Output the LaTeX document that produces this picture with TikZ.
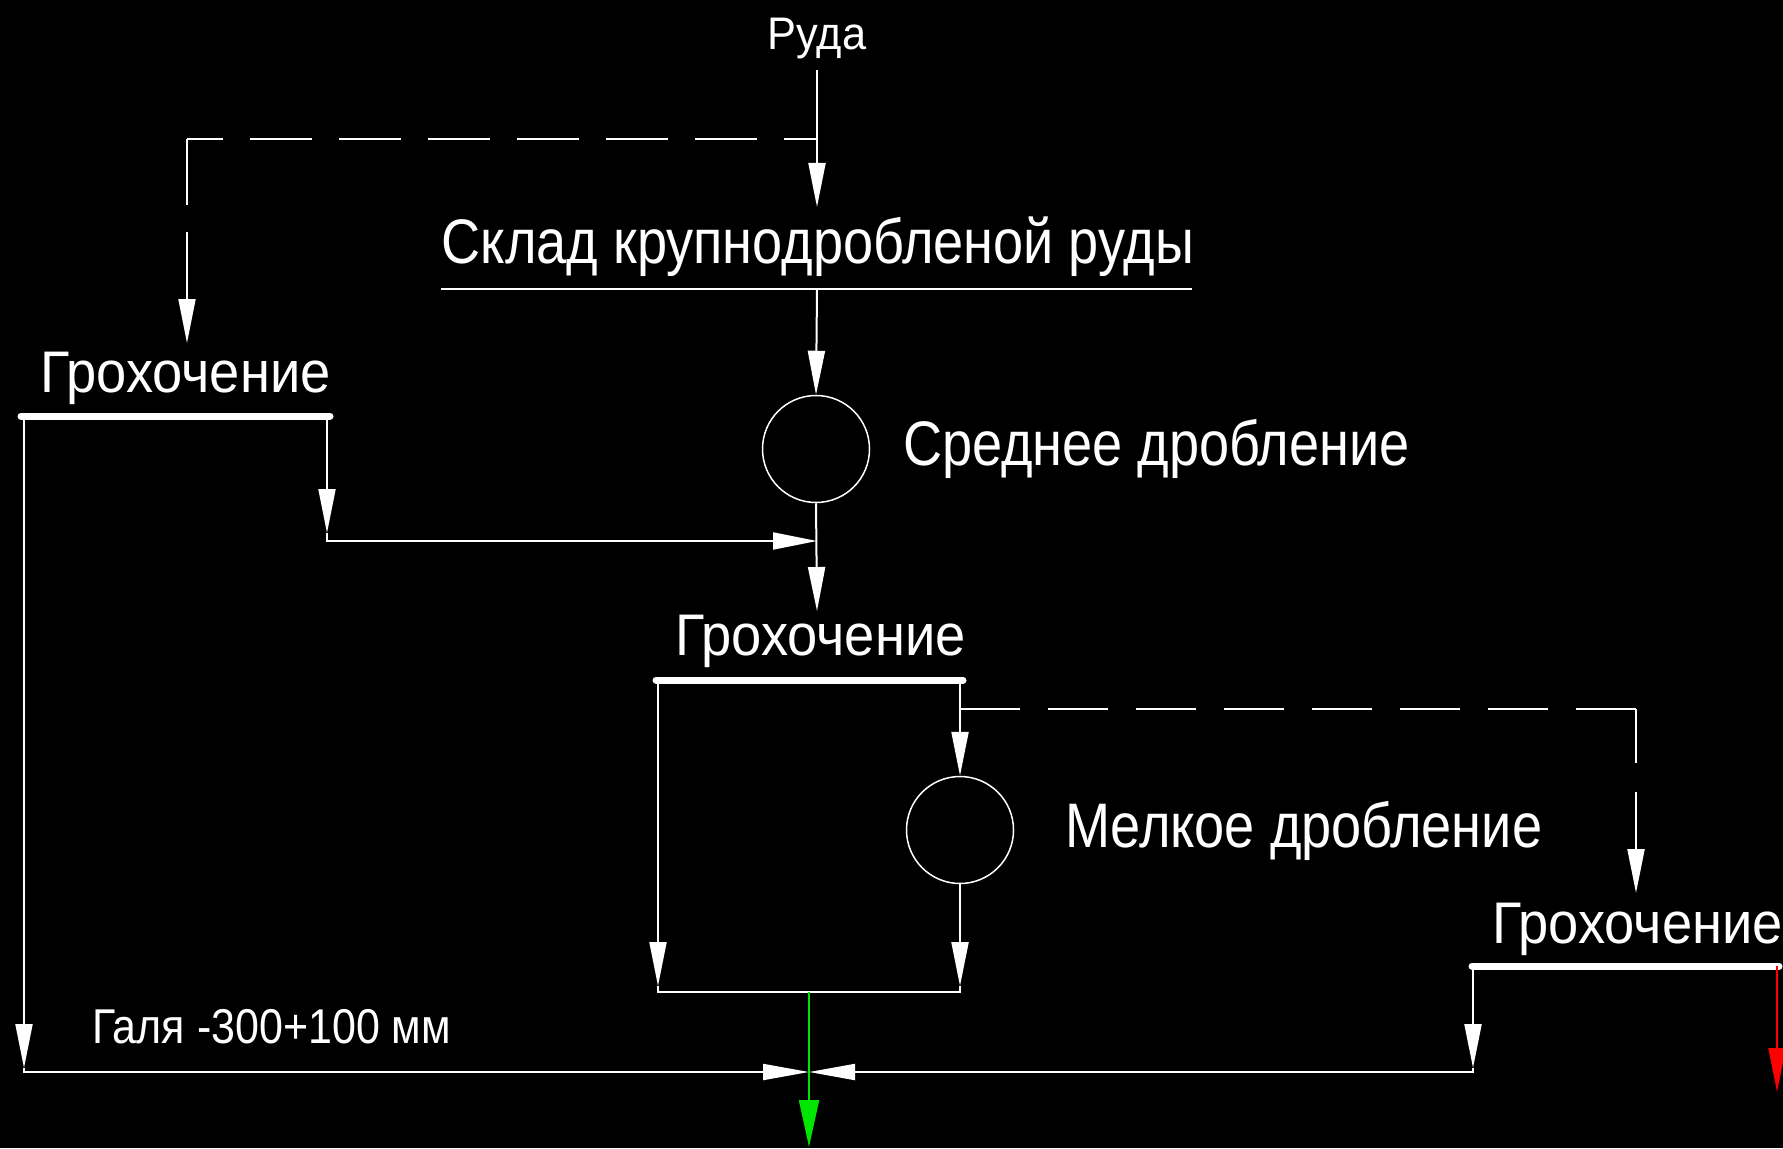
\documentclass[tikz,border=0pt]{standalone}
\usepackage{fontspec}
\setmainfont{Liberation Sans}[FakeStretch=0.86]
\newfontfamily\screenfamily{Liberation Sans}[FakeStretch=0.925]
\newfontfamily\notefamily{Liberation Sans}[FakeStretch=0.88]
\newfontfamily\feedfamily{Liberation Sans}[FakeStretch=0.95]
\usetikzlibrary{arrows.meta}

\begin{document}
\begin{tikzpicture}[x=0.1mm, y=-0.1mm,
  flow/.style={draw=white, line width=0.2mm},
  tip/.style={-{Triangle[length=4.4mm, width=1.7mm]}},
  bowtip/.style={-{Triangle[length=4.6mm, width=1.6mm]}},
  greentip/.style={-{Triangle[length=4.7mm, width=2mm]}},
  screenbar/.style={draw=white, line width=0.7mm, line cap=round},
  lbl/.style={text=white, inner sep=0pt, outer sep=0pt},
  bigfont/.style={font=\fontsize{17.9}{20}\selectfont},
  scrfont/.style={font=\screenfamily\fontsize{16.7}{19}\selectfont},
  smallfont/.style={font=\notefamily\fontsize{13.9}{16}\selectfont},
  topfont/.style={font=\feedfamily\fontsize{13}{15}\selectfont},
  crusher/.style={circle, draw=white, line width=0.15mm, minimum size=10.7mm, inner sep=0pt},
  dashA/.style={dash pattern=on 6.2mm off 2.7mm},
]
% background
\fill[black] (0,0) rectangle (1783,1148);
\useasboundingbox (0,0) rectangle (1783,1148);

% ---- labels ----
\node[lbl, topfont, anchor=base] (ruda) at (817,50) {Руда};
\node[lbl, bigfont, anchor=base] (sklad) at (818,263) {Склад крупнодробленой руды};
\node[lbl, bigfont, anchor=base west] (midlbl) at (903,465) {Среднее дробление};
\node[lbl, bigfont, anchor=base west] (finelbl) at (1065,847) {Мелкое дробление};
\node[lbl, scrfont, anchor=base west] (g1) at (40,392) {Грохочение};
\node[lbl, scrfont, anchor=base west] (g2) at (675,655) {Грохочение};
\node[lbl, scrfont, anchor=base west] (g3) at (1492,943) {Грохочение};
\node[lbl, smallfont, anchor=base west] (galya) at (92,1043) {Галя -300+100 мм};

% ---- crushers ----
\node[crusher] (c1) at (816,449) {};
\node[crusher] (c2) at (960,830) {};

% ---- key points ----
\coordinate (rudaout) at (817,70);
\coordinate (jtop) at (817,139);
\coordinate (skin) at (817,207);
\coordinate (skL) at (441,289);
\coordinate (skR) at (1192,289);
\coordinate (skout) at (817,289);
\coordinate (cTL) at (187,139);
\coordinate (g1in) at (187,343);
\coordinate (g1barL) at (21,416);
\coordinate (g1barR) at (330,416);
\coordinate (g1L) at (24,416);
\coordinate (g1R) at (327,416);
\coordinate (g1Rt) at (327,533);
\coordinate (j1) at (817,541);
\coordinate (g2in) at (817,611);
\coordinate (g2barL) at (656,680);
\coordinate (g2barR) at (963,680);
\coordinate (g2L) at (658,680);
\coordinate (g2R) at (960,680);
\coordinate (j2) at (960,709);
\coordinate (cR) at (1636,709);
\coordinate (g3in) at (1636,893);
\coordinate (g2Lt) at (658,986);
\coordinate (c2t) at (960,986);
\coordinate (bl) at (658,992);
\coordinate (br) at (960,992);
\coordinate (jg) at (809,992);
\coordinate (outg) at (809,1147);
\coordinate (g1Lt) at (24,1068);
\coordinate (jb) at (809,1072);
\coordinate (g3barL) at (1472,966);
\coordinate (g3barR) at (1779,966);
\coordinate (g3L) at (1473,966);
\coordinate (g3Lt) at (1473,1068);
\coordinate (g3R) at (1777,966);
\coordinate (outr) at (1777,1092);

% ---- screen decks and stock-pile line ----
\draw[screenbar] (g1barL) -- (g1barR);
\draw[screenbar] (g2barL) -- (g2barR);
\draw[screenbar] (g3barL) -- (g3barR);
\draw[flow] (skL) -- (skR);

% ---- feed ----
\draw[flow, tip] (rudaout) -- (skin);
\draw[flow, dashA, dash phase=2.9mm] (jtop) -- (cTL);
\draw[flow, tip, dash pattern=on 6.6mm off 2.7mm on 40mm off 0.1mm] (cTL) -- (g1in);

% ---- medium crushing circuit ----
\draw[flow, tip] (skout) -- (c1.north);
\draw[flow, tip] (c1.south) -- (g2in);
\draw[flow, tip] (g1R) -- (g1Rt);
\draw[flow, tip] (g1Rt) |- (j1);

% ---- fine crushing circuit ----
\draw[flow, tip] (g2R) -- (c2.north);
\draw[flow, tip] (c2.south) -- (c2t);
\draw[flow, tip] (g2L) -- (g2Lt);
\draw[flow] (g2Lt) -- (bl) -- (br) -- (c2t);
\draw[flow, dash pattern=on 6mm off 2.8mm] (j2) -- (cR);
\draw[flow, tip, dash pattern=on 5.4mm off 2.9mm on 40mm off 0.1mm] (cR) -- (g3in);

% ---- oversize to collecting line ----
\draw[flow, tip] (g1L) -- (g1Lt);
\draw[flow, bowtip] (g1Lt) |- (jb);
\draw[flow, tip] (g3L) -- (g3Lt);
\draw[flow, bowtip] (g3Lt) |- (jb);

% ---- products ----
\draw[draw={rgb,255:red,0;green,230;blue,0}, line width=0.2mm, greentip,
      fill={rgb,255:red,0;green,230;blue,0}] (jg) -- (outg);
\draw[draw={rgb,255:red,255;green,0;blue,0}, line width=0.2mm, tip,
      fill={rgb,255:red,255;green,0;blue,0}] (g3R) -- (outr);
\end{tikzpicture}
\end{document}
